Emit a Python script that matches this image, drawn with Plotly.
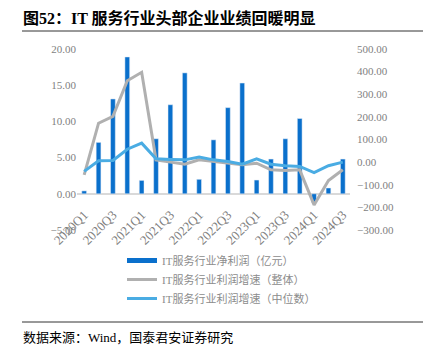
import plotly.graph_objects as go

quarters = ["2020Q1","2020Q2","2020Q3","2020Q4","2021Q1","2021Q2","2021Q3","2021Q4",
            "2022Q1","2022Q2","2022Q3","2022Q4","2023Q1","2023Q2","2023Q3","2023Q4",
            "2024Q1","2024Q2","2024Q3"]
net_profit = [0.4, 7.1, 13.1, 18.9, 1.85, 7.6, 12.3, 16.7, 2.0, 7.45, 11.9, 15.3,
              1.9, 4.8, 7.6, 10.4, -1.2, 0.8, 4.8]
growth_total = [-56, 172, 202, 360, 397, 10, 0, -9, 10, 3, -5, -12, -5, -34, -37, -34,
                -189, -81, -34]
growth_median = [-41, 6, 7, 57, 84, 15, 12, 10, 22, 10, 3, -9, 15, -9, -16, -19,
                 -46, -16, 0]
left_ticks = [-5, 0, 5, 10, 15, 20]
right_ticks = [-300, -200, -100, 0, 100, 200, 300, 400, 500]
x_ticks = quarters[::2]

names = ["IT服务行业净利润（亿元）", "IT服务行业利润增速（整体）", "IT服务行业利润增速（中位数）"]
c_bar = "#0A70CC"
c_gray = "#B0B0B0"
c_light = "#4AACE3"
serif = "Liberation Serif, Noto Sans CJK SC"
tick_color = "#7F7F7F"

fig = go.Figure()
fig.add_trace(go.Bar(x=quarters, y=net_profit, marker_color=c_bar, width=0.33,
                     showlegend=False, name=names[0]))
# legend proxy for the bar series (thick line sample)
fig.add_trace(go.Scatter(x=[None], y=[None], mode="lines", line=dict(color=c_bar, width=5),
                         name=names[0]))
fig.add_trace(go.Scatter(x=quarters, y=growth_total, yaxis="y2", mode="lines",
                         line=dict(color=c_gray, width=3), name=names[1]))
fig.add_trace(go.Scatter(x=quarters, y=growth_median, yaxis="y2", mode="lines",
                         line=dict(color=c_light, width=3), name=names[2]))

L, R, T, B = 77, 350, 49, 230
W, H = 436, 351
def px(x):
    return (x - L) / (R - L)
def py(y):
    return (B - y) / (B - T)

fig.update_layout(
    width=W, height=H,
    margin=dict(l=L, r=W - R, t=T, b=H - B, autoexpand=False),
    paper_bgcolor="white", plot_bgcolor="white",
    bargap=0.6,
    xaxis=dict(type="category", tickmode="array", tickvals=x_ticks, ticktext=x_ticks,
               tickangle=-45, tickfont=dict(family=serif, size=13, color=tick_color),
               showgrid=False, showline=False, ticks="", automargin=False,
               anchor="free", position=0.2, ticklabelstandoff=10),
    yaxis=dict(range=[-5, 20], tickvals=left_ticks, tickformat=".2f",
               tickfont=dict(family=serif, size=11, color=tick_color),
               showgrid=False, zeroline=True, zerolinecolor="#D9D9D9", zerolinewidth=1.5,
               showline=False, ticks="", automargin=False),
    yaxis2=dict(range=[-300, 500], tickvals=right_ticks, tickformat=".2f", ticksuffix="%",
                overlaying="y", side="right",
                tickfont=dict(family=serif, size=11, color=tick_color),
                showgrid=False, zeroline=False, showline=False, ticks="", automargin=False,
                ticklabelstandoff=6),
    legend=dict(orientation="v", x=px(122), xanchor="left", y=py(246), yanchor="top",
                font=dict(family=serif, size=11, color="#8C8C8C"),
                bgcolor="rgba(0,0,0,0)", tracegroupgap=0, itemwidth=30),
    showlegend=True,
)

fig.add_annotation(text="<b>图52：IT 服务行业头部企业业绩回暖明显</b>", xref="paper", yref="paper",
                   x=px(21), y=py(18), xanchor="left", yanchor="middle", showarrow=False,
                   font=dict(family=serif, size=16, color="#000000"))
fig.add_annotation(text="数据来源：Wind，国泰君安证券研究", xref="paper", yref="paper",
                   x=px(21), y=py(337), xanchor="left", yanchor="middle", showarrow=False,
                   font=dict(family=serif, size=13, color="#000000"))
for yy in (31, 322):
    fig.add_shape(type="line", xref="paper", yref="paper", x0=px(22), x1=px(423),
                  y0=py(yy), y1=py(yy), line=dict(color="#333333", width=1))

fig.write_html("out.html")
